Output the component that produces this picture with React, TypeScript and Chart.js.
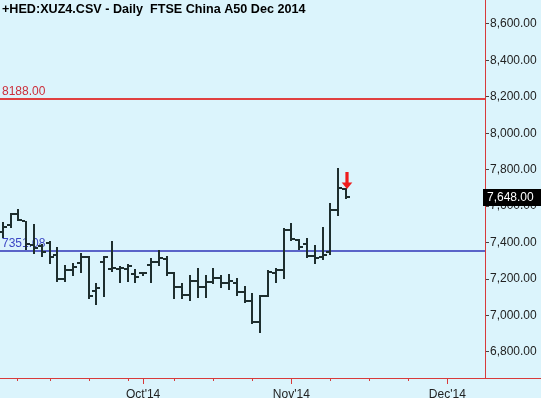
import React, { useEffect, useRef } from 'react';
import { Chart, registerables } from 'chart.js';

Chart.register(...registerables);

const titleText = '+HED:XUZ4.CSV - Daily  FTSE China A50 Dec 2014';

// OHLC values per trading day (index = trading-day slot)
const opens = [7459, 7497, 7558, 7520, 7388, 7382, 7399, 7333, 7201, 7251, 7289, 7322, 7136, 7295, 7256, 7256, 7256, 7229, 7234, 7278, 7295, 7311, 7234, 7158, 7114, 7191, 7158, 7185, 7207, 7180, 7180, 7130, 7081, 6966, 7108, 7234, 7251, 7470, 7415, 7393, 7327, 7322, 7349, 7580, 7695];
const highs = [7514, 7563, 7585, 7520, 7503, 7393, 7410, 7377, 7278, 7289, 7344, 7327, 7180, 7327, 7410, 7273, 7284, 7256, 7240, 7316, 7360, 7327, 7240, 7180, 7223, 7262, 7223, 7262, 7223, 7229, 7207, 7163, 7125, 7114, 7251, 7262, 7481, 7508, 7421, 7426, 7388, 7486, 7618, 7810, 7700];
const lows = [7431, 7487, 7525, 7366, 7344, 7328, 7289, 7191, 7191, 7223, 7240, 7097, 7064, 7108, 7245, 7185, 7191, 7185, 7223, 7185, 7278, 7223, 7097, 7097, 7086, 7103, 7103, 7180, 7158, 7147, 7114, 7075, 6960, 6911, 7108, 7185, 7207, 7415, 7366, 7322, 7289, 7311, 7338, 7552, 7645];
const closes = [7486, 7558, 7525, 7393, 7371, 7349, 7322, 7201, 7251, 7267, 7322, 7108, 7152, 7322, 7262, 7262, 7273, 7213, 7234, 7295, 7316, 7234, 7158, 7114, 7191, 7158, 7185, 7207, 7180, 7191, 7130, 7081, 6966, 7108, 7240, 7251, 7470, 7421, 7377, 7327, 7316, 7333, 7580, 7700, 7648];

// Horizontal reference levels
const levelValues = [8188, 7351.08];
const levelLabels = ['8188.00', '7351.08'];

// Axis ticks
const yTickValues = [6800, 7000, 7200, 7400, 7600, 7800, 8000, 8200, 8400, 8600];
const monthTickSlots = [18, 37, 57];
const monthTickLabels = ["Oct'14", "Nov'14", "Dec'14"];
const weekTickSlots = [1.85, 6, 11, 16, 22, 27, 32, 42, 47, 52];

const FONT = 'Arial, "Liberation Sans", Helvetica, sans-serif';
const BG = '#dbf4fc';
const BAR = '#1e2e2e';
const AXIS_RED = '#d83a3a';
const LEVEL_LINE = ['#e04040', '#5a64c8'];
const LEVEL_TEXT = ['#cc2e3a', '#3c46c4'];

const fmt = (v: number) =>
  v.toLocaleString('en-US', { minimumFractionDigits: 2, maximumFractionDigits: 2 });

const drawPlugin = {
  id: 'ohlcDraw',
  beforeDraw(chart: any) {
    const ctx = chart.ctx;
    ctx.save();
    ctx.fillStyle = BG;
    ctx.fillRect(0, 0, chart.width, chart.height);
    ctx.restore();
  },
  beforeDatasetsDraw(chart: any) {
    const { ctx, chartArea, scales } = chart;
    const y = scales.y;
    ctx.save();
    levelValues.forEach((v, k) => {
      const py = Math.round(y.getPixelForValue(v));
      ctx.fillStyle = LEVEL_LINE[k];
      ctx.fillRect(chartArea.left, py - 1, chartArea.right - chartArea.left, 2);
      ctx.fillStyle = LEVEL_TEXT[k];
      ctx.font = `12px ${FONT}`;
      ctx.textBaseline = 'alphabetic';
      ctx.textAlign = 'left';
      ctx.fillText(levelLabels[k], 2, py - 4);
    });
    ctx.fillStyle = '#000';
    ctx.font = `bold 12.6px ${FONT}`;
    ctx.textBaseline = 'alphabetic';
    ctx.textAlign = 'left';
    ctx.fillText(titleText, 2, 13);
    ctx.restore();
  },
  afterDatasetsDraw(chart: any) {
    const { ctx, chartArea, scales } = chart;
    const x = scales.x;
    const y = scales.y;
    ctx.save();
    ctx.beginPath();
    ctx.rect(chartArea.left, chartArea.top, chartArea.right - chartArea.left, chartArea.bottom - chartArea.top);
    ctx.clip();
    ctx.fillStyle = BAR;
    for (let i = 0; i < closes.length; i++) {
      const px = Math.round(x.getPixelForValue(i));
      const yH = Math.round(y.getPixelForValue(highs[i]));
      const yL = Math.round(y.getPixelForValue(lows[i]));
      const yO = Math.round(y.getPixelForValue(opens[i]));
      const yC = Math.round(y.getPixelForValue(closes[i]));
      ctx.fillRect(px - 1, yH, 2, Math.max(2, yL - yH + 1));
      ctx.fillRect(px - 4, yO - 1, 3, 2);
      ctx.fillRect(px + 1, yC - 1, 3, 2);
    }
    ctx.restore();
  },
  afterDraw(chart: any) {
    const { ctx, chartArea, scales } = chart;
    const x = scales.x;
    const y = scales.y;
    ctx.save();
    ctx.strokeStyle = AXIS_RED;
    ctx.lineWidth = 1;
    ctx.beginPath();
    weekTickSlots.forEach((s) => {
      const px = Math.round(x.getPixelForValue(s)) + 0.5;
      ctx.moveTo(px, chartArea.bottom);
      ctx.lineTo(px, chartArea.bottom + 3);
    });
    ctx.moveTo(chartArea.right, chartArea.bottom + 0.5);
    ctx.lineTo(chart.width, chartArea.bottom + 0.5);
    ctx.stroke();

    const last = closes.length - 1;
    const cy = Math.round(y.getPixelForValue(closes[last]));
    ctx.fillStyle = '#000';
    ctx.fillRect(chartArea.right - 2, cy - 8, chart.width - chartArea.right + 2, 17);
    ctx.fillStyle = '#fff';
    ctx.font = `12px ${FONT}`;
    ctx.textBaseline = 'middle';
    ctx.textAlign = 'left';
    ctx.fillText(fmt(closes[last]), chartArea.right + 2, cy + 1);

    const ax = Math.round(x.getPixelForValue(last)) + 1;
    const tip = Math.round(y.getPixelForValue(highs[last])) + 1;
    ctx.fillStyle = '#ee1c1c';
    ctx.fillRect(ax - 1.6, tip - 17, 3.2, 11);
    ctx.beginPath();
    ctx.moveTo(ax - 5.3, tip - 6.5);
    ctx.lineTo(ax + 5.3, tip - 6.5);
    ctx.lineTo(ax, tip);
    ctx.closePath();
    ctx.fill();
    ctx.restore();
  },
};

export default function App() {
  const ref = useRef<HTMLCanvasElement | null>(null);
  useEffect(() => {
    if (!ref.current) return;
    const chart = new Chart(ref.current, {
      type: 'line',
      data: {
        datasets: [
          {
            data: closes.map((c, i) => ({ x: i, y: c })),
            showLine: false,
            pointRadius: 0,
            borderColor: 'rgba(0,0,0,0)',
          },
        ],
      },
      options: {
        animation: false,
        responsive: false,
        devicePixelRatio: 1,
        layout: { padding: 0 },
        plugins: { legend: { display: false }, tooltip: { enabled: false }, title: { display: false } },
        scales: {
          x: {
            type: 'linear',
            position: 'bottom',
            min: -0.35,
            max: 61.83,
            afterBuildTicks: (scale: any) => {
              scale.ticks = monthTickSlots.map((v) => ({ value: v }));
            },
            afterFit: (scale: any) => {
              scale.height = 20;
              scale.paddingLeft = 0;
              scale.paddingRight = 0;
            },
            ticks: {
              autoSkip: false,
              maxRotation: 0,
              minRotation: 0,
              padding: 3,
              color: '#222',
              font: { family: FONT, size: 12 },
              callback: (_v: any, i: number) => monthTickLabels[i] ?? '',
            },
            grid: { display: true, drawOnChartArea: false, drawTicks: true, tickLength: 6, color: AXIS_RED, lineWidth: 1 },
            border: { display: true, color: AXIS_RED, width: 1 },
          },
          y: {
            type: 'linear',
            position: 'right',
            min: 6657,
            max: 8731,
            afterBuildTicks: (scale: any) => {
              scale.ticks = yTickValues.map((v) => ({ value: v }));
            },
            afterFit: (scale: any) => {
              scale.width = 56;
              scale.paddingTop = 0;
              scale.paddingBottom = 0;
            },
            ticks: {
              padding: 1,
              color: '#222',
              font: { family: FONT, size: 12 },
              callback: (v: any) => fmt(Number(v)),
            },
            grid: { display: true, drawOnChartArea: false, drawTicks: true, tickLength: 4, color: '#444', lineWidth: 1 },
            border: { display: true, color: AXIS_RED, width: 1 },
          },
        },
      },
      plugins: [drawPlugin],
    } as any);
    return () => chart.destroy();
  }, []);
  return (
    <div style={{ position: 'fixed', left: 0, top: 0, width: 541, height: 398, background: BG }}>
      <canvas ref={ref} width={541} height={398} style={{ display: 'block' }} />
    </div>
  );
}
